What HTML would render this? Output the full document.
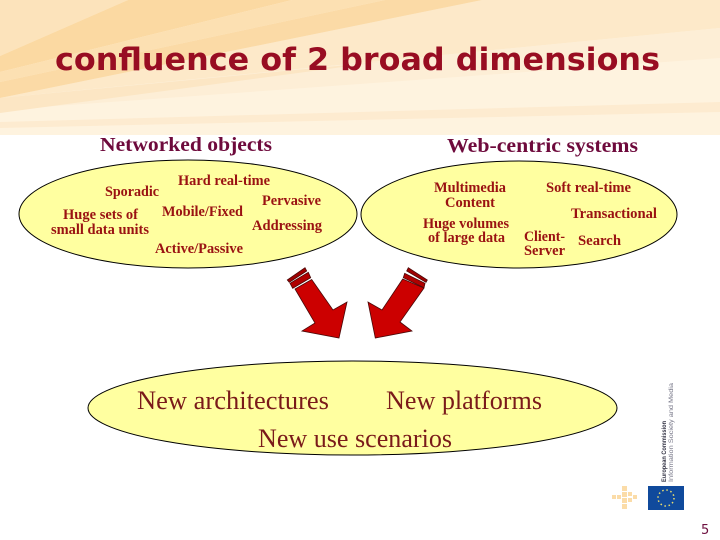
<!DOCTYPE html>
<html><head><meta charset="utf-8"><style>
html,body{margin:0;padding:0;background:#fff}
svg{display:block}
.s{font-family:"Liberation Serif",serif;font-weight:bold;fill:#9a1212;font-size:14.500px}
.h{font-family:"Liberation Serif",serif;font-weight:bold;fill:#6e0a3c;font-size:20.500px}
.b{font-family:"Liberation Serif",serif;fill:#7a1a1a;font-size:26.500px}
</style></head><body>
<svg width="720" height="540" viewBox="0 0 720 540" xmlns="http://www.w3.org/2000/svg">
<rect width="720" height="135" fill="#fef3df"/>
<polygon points="482,0 720,0 720,28 0,98" fill="#fde9c9"/>
<polygon points="720,28 720,58 0,110 0,98" fill="#fdeed6"/>
<polygon points="0,0 128,0 0,56" fill="#fce3bb"/>
<polygon points="128,0 292,0 0,72 0,56" fill="#fbd9a2"/>
<polygon points="292,0 385,0 0,82 0,72" fill="#fce0b2"/>
<polygon points="385,0 482,0 0,98 0,82" fill="#fbdaa6"/>
<polygon points="0,98 380,62 0,113" fill="#fce6c4"/>
<polygon points="0,122 720,102 720,112 0,128" fill="#fdebd0"/>

<text x="55" y="70" font-family="'DejaVu Sans',sans-serif" font-weight="bold" font-size="31" fill="#980d22" textLength="605" lengthAdjust="spacingAndGlyphs">confluence of 2 broad dimensions</text>

<text class="h" x="100" y="151" textLength="172" lengthAdjust="spacingAndGlyphs">Networked objects</text>
<text class="h" x="447" y="152" textLength="191" lengthAdjust="spacingAndGlyphs">Web-centric systems</text>

<ellipse cx="188" cy="214" rx="169" ry="54" fill="#ffffa0" stroke="#000" stroke-width="1"/>
<ellipse cx="519" cy="214.500" rx="158" ry="53.500" fill="#ffffa0" stroke="#000" stroke-width="1"/>
<ellipse cx="352.500" cy="408" rx="264.500" ry="47" fill="#ffffa0" stroke="#000" stroke-width="1"/>

<text class="s" x="178" y="185" textLength="92" lengthAdjust="spacingAndGlyphs">Hard real-time</text>
<text class="s" x="105" y="196" textLength="54" lengthAdjust="spacingAndGlyphs">Sporadic</text>
<text class="s" x="262" y="205" textLength="59" lengthAdjust="spacingAndGlyphs">Pervasive</text>
<text class="s" x="162" y="216" textLength="81" lengthAdjust="spacingAndGlyphs">Mobile/Fixed</text>
<text class="s" x="63" y="219" textLength="75" lengthAdjust="spacingAndGlyphs">Huge sets of</text>
<text class="s" x="51" y="234" textLength="98" lengthAdjust="spacingAndGlyphs">small data units</text>
<text class="s" x="252" y="230" textLength="70" lengthAdjust="spacingAndGlyphs">Addressing</text>
<text class="s" x="155" y="253" textLength="88" lengthAdjust="spacingAndGlyphs">Active/Passive</text>

<text class="s" x="434" y="192" textLength="72" lengthAdjust="spacingAndGlyphs">Multimedia</text>
<text class="s" x="445" y="207" textLength="50" lengthAdjust="spacingAndGlyphs">Content</text>
<text class="s" x="546" y="192" textLength="85" lengthAdjust="spacingAndGlyphs">Soft real-time</text>
<text class="s" x="571" y="218" textLength="86" lengthAdjust="spacingAndGlyphs">Transactional</text>
<text class="s" x="423" y="228" textLength="86" lengthAdjust="spacingAndGlyphs">Huge volumes</text>
<text class="s" x="428" y="242" textLength="77" lengthAdjust="spacingAndGlyphs">of large data</text>
<text class="s" x="524" y="241" textLength="41" lengthAdjust="spacingAndGlyphs">Client-</text>
<text class="s" x="578" y="245" textLength="43" lengthAdjust="spacingAndGlyphs">Search</text>
<text class="s" x="524" y="255" textLength="41" lengthAdjust="spacingAndGlyphs">Server</text>

<g stroke="#4a0808" stroke-width="0.800">
<polygon points="295,289 315,323 302,331 339,338 347,302 333,310 311.700,279.500" fill="#cc0000"/>
<polygon points="290,283.300 308.300,272.300 310.700,277.700 292.700,288.300" fill="#b00000"/>
<polygon points="287.300,280 305,267.700 306.700,271 289.300,282.300" fill="#a00000"/>
<polygon points="402.700,279 382,310 368,302 375.300,338 412,331 400,322 424,288" fill="#cc0000"/>
<polygon points="404.700,273.300 425,283.300 424,287.700 403.300,277.700" fill="#b00000"/>
<polygon points="408.300,267.700 427.300,280 426,282.300 406.700,271" fill="#a00000"/>
</g>

<text class="b" x="137" y="409" textLength="192" lengthAdjust="spacingAndGlyphs">New architectures</text>
<text class="b" x="386" y="409" textLength="156" lengthAdjust="spacingAndGlyphs">New platforms</text>
<text class="b" x="258" y="447" textLength="194" lengthAdjust="spacingAndGlyphs">New use scenarios</text>

<g transform="translate(673,482) rotate(-90)" font-family="'Liberation Sans',sans-serif" font-size="6.500">
<text x="0" y="-7" font-weight="bold" fill="#334" textLength="61" lengthAdjust="spacingAndGlyphs">European Commission</text>
<text x="0" y="0" fill="#778" textLength="99" lengthAdjust="spacingAndGlyphs">Information Society and Media</text>
</g>
<rect x="648" y="486" width="36" height="24" fill="#104a9c"/>
<circle cx="666" cy="498" r="8" fill="none" stroke="#e8dc70" stroke-width="1.500" stroke-dasharray="1.500 2.700"/>
<g fill="#fbdca8">
<rect x="622" y="486" width="5" height="5"/><rect x="622" y="492" width="5" height="5"/><rect x="622" y="498" width="5" height="5"/><rect x="622" y="504" width="5" height="5"/>
<rect x="612" y="495" width="4" height="4"/><rect x="617" y="495" width="4" height="4"/>
<rect x="628" y="492" width="4" height="4"/><rect x="628" y="498" width="4" height="4"/><rect x="633" y="495" width="4" height="4"/>
</g>
<text x="701" y="534" font-family="'DejaVu Sans',sans-serif" font-size="13" fill="#6e1040">5</text>
</svg>
</body></html>
